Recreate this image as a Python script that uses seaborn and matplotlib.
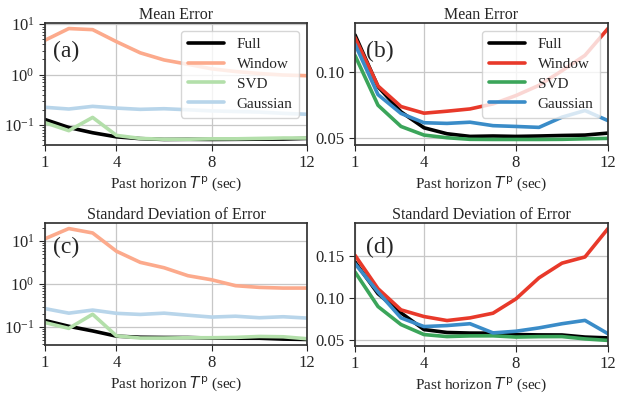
import matplotlib
matplotlib.use("Agg")
import matplotlib.pyplot as plt
import seaborn as sns
from matplotlib.ticker import FormatStrFormatter

# past horizon (sec)
horizon = [1, 2, 3, 4, 5, 6, 7, 8, 9, 10, 11, 12]
methods = ["Full", "Window", "SVD", "Gaussian"]

# shared "Full" curves
full_mean = [0.128, 0.089, 0.070, 0.058, 0.0535, 0.0515, 0.0518, 0.0515, 0.0518, 0.0522, 0.0525, 0.054]
full_std = [0.143, 0.105, 0.082, 0.062, 0.0585, 0.0578, 0.0577, 0.056, 0.0556, 0.0555, 0.053, 0.052]

# panel (a): mean error, log scale
a_window = [4.8, 8.2, 7.8, 4.5, 2.7, 1.95, 1.6, 1.3, 1.15, 1.05, 0.98, 0.95]
a_svd = [0.111, 0.077, 0.141, 0.062, 0.054, 0.052, 0.052, 0.053, 0.053, 0.054, 0.055, 0.055]
a_gauss = [0.224, 0.207, 0.234, 0.216, 0.204, 0.21, 0.2, 0.19, 0.185, 0.18, 0.17, 0.163]

# panel (b): mean error, linear scale
b_window = [0.126, 0.0895, 0.074, 0.069, 0.0705, 0.0722, 0.076, 0.0823, 0.090, 0.101, 0.1126, 0.1328]
b_svd = [0.1125, 0.075, 0.059, 0.0525, 0.0505, 0.0493, 0.0492, 0.0492, 0.0492, 0.0493, 0.0497, 0.050]
b_gauss = [0.121, 0.083, 0.0688, 0.0618, 0.0613, 0.0622, 0.0596, 0.059, 0.0583, 0.066, 0.071, 0.0634]

# panel (c): std of error, log scale
c_window = [11.3, 19.5, 15.4, 5.8, 3.2, 2.4, 1.57, 1.26, 0.92, 0.84, 0.81, 0.81]
c_svd = [0.128, 0.094, 0.2, 0.063, 0.056, 0.056, 0.057, 0.057, 0.058, 0.061, 0.060, 0.054]
c_gauss = [0.27, 0.212, 0.25, 0.21, 0.198, 0.212, 0.19, 0.172, 0.18, 0.166, 0.175, 0.163]

# panel (d): std of error, linear scale
d_window = [0.151, 0.111, 0.0856, 0.0776, 0.0728, 0.076, 0.0816, 0.0988, 0.124, 0.1416, 0.149, 0.183]
d_svd = [0.131, 0.0896, 0.068, 0.056, 0.0536, 0.0544, 0.0545, 0.053, 0.0535, 0.0536, 0.0508, 0.049]
d_gauss = [0.141, 0.107, 0.076, 0.0656, 0.0668, 0.069, 0.058, 0.060, 0.064, 0.069, 0.073, 0.057]

light_colors = ["black", "#fcaa8c", "#b3dfaa", "#b8d5ea"]
dark_colors = ["black", "#e8392a", "#3ba55a", "#3a8cc8"]

sns.set_theme(style="ticks", rc={"axes.edgecolor": "0.2", "grid.color": "0.78", "grid.linewidth": 0.9})
plt.rcParams["font.family"] = ["Liberation Serif", "DejaVu Serif"]
plt.rcParams["mathtext.fontset"] = "dejavusans"

fig = plt.figure(figsize=(6.31, 3.95), dpi=100)
boxes = {
    "a": [45 / 631, 1 - 145 / 395, 262 / 631, 122 / 395],
    "b": [355 / 631, 1 - 145 / 395, 253 / 631, 122 / 395],
    "c": [45 / 631, 1 - 345 / 395, 262 / 631, 122 / 395],
    "d": [355 / 631, 1 - 346 / 395, 253 / 631, 123 / 395],
}
panels = {
    "a": ([full_mean, a_window, a_svd, a_gauss], light_colors, True, "Mean Error", (0.03, 0.77)),
    "b": ([full_mean, b_window, b_svd, b_gauss], dark_colors, False, "Mean Error", (0.043, 0.77)),
    "c": ([full_std, c_window, c_svd, c_gauss], light_colors, True, "Standard Deviation of Error", (0.03, 0.80)),
    "d": ([full_std, d_window, d_svd, d_gauss], dark_colors, False, "Standard Deviation of Error", (0.043, 0.805)),
}

for key, (series, colors, logy, title, lab_pos) in panels.items():
    ax = fig.add_axes(boxes[key])
    for name, vals, col in zip(methods, series, colors):
        sns.lineplot(x=horizon, y=vals, color=col, lw=2.6, label=name, ax=ax,
                     legend=key in ("a", "b"))
    if logy:
        ax.set_yscale("log")
    else:
        ax.set_yticks([0.05, 0.10] if key == "b" else [0.05, 0.10, 0.15])
        ax.yaxis.set_major_formatter(FormatStrFormatter("%.2f"))
    ax.set_xlim(1, 12)
    ax.set_xticks([1, 4, 8, 12])
    ax.grid(True, which="major")
    ax.tick_params(labelsize=12, length=4, width=0.8)
    ax.tick_params(which="minor", length=2, width=0.6)
    ax.set_title(title, fontsize=11.5, pad=3)
    ax.set_xlabel("Past horizon $T^{\\mathrm{p}}$ (sec)", fontsize=11, labelpad=2)
    ax.text(lab_pos[0], lab_pos[1], f"({key})", transform=ax.transAxes,
            fontsize=17, ha="left", va="center")
    if key in ("a", "b"):
        ax.legend(loc="upper right", fontsize=11, handlelength=2.4, framealpha=0.8,
                  labelspacing=0.4, borderpad=0.45)

fig.savefig("out.png", dpi=100)
